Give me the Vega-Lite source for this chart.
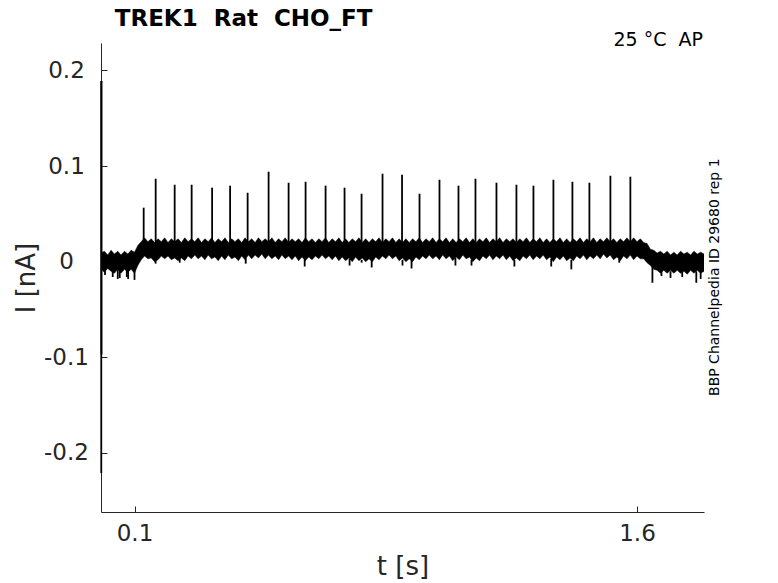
{
  "$schema": "https://vega.github.io/schema/vega-lite/v6.json",
  "width": 603,
  "height": 469,
  "autosize": "none",
  "padding": {"left": 101, "top": 43, "right": 74, "bottom": 71},
  "background": "white",
  "config": {"view": {"stroke": null}, "font": "DejaVu Sans"},
  "datasets": {
    "envelope": [
      {"t":0.00,"lo":-0.008,"hi":0.009},{"t":0.01,"lo":-0.011,"hi":0.011},{"t":0.02,"lo":-0.007,"hi":0.007},{"t":0.03,"lo":-0.010,"hi":0.012},{"t":0.04,"lo":-0.012,"hi":0.008},
      {"t":0.05,"lo":-0.008,"hi":0.011},{"t":0.06,"lo":-0.012,"hi":0.007},{"t":0.07,"lo":-0.008,"hi":0.011},{"t":0.08,"lo":-0.011,"hi":0.008},{"t":0.09,"lo":-0.008,"hi":0.012},
      {"t":0.10,"lo":-0.012,"hi":0.010},{"t":0.11,"lo":-0.004,"hi":0.017},{"t":0.12,"lo":0.002,"hi":0.021},{"t":0.13,"lo":0.006,"hi":0.025},{"t":0.14,"lo":0.003,"hi":0.021},
      {"t":0.15,"lo":0.004,"hi":0.024},{"t":0.16,"lo":0.000,"hi":0.020},{"t":0.17,"lo":0.002,"hi":0.024},{"t":0.18,"lo":0.006,"hi":0.021},{"t":0.19,"lo":0.003,"hi":0.025},
      {"t":0.20,"lo":0.006,"hi":0.020},{"t":0.21,"lo":0.002,"hi":0.024},{"t":0.22,"lo":0.004,"hi":0.021},{"t":0.23,"lo":0.001,"hi":0.024},{"t":0.24,"lo":0.004,"hi":0.020},
      {"t":0.25,"lo":0.001,"hi":0.025},{"t":0.26,"lo":0.006,"hi":0.021},{"t":0.27,"lo":0.003,"hi":0.024},{"t":0.28,"lo":0.007,"hi":0.021},{"t":0.29,"lo":0.003,"hi":0.025},
      {"t":0.30,"lo":0.006,"hi":0.020},{"t":0.31,"lo":0.002,"hi":0.024},{"t":0.32,"lo":0.007,"hi":0.021},{"t":0.33,"lo":0.003,"hi":0.025},{"t":0.34,"lo":0.005,"hi":0.020},
      {"t":0.35,"lo":0.001,"hi":0.024},{"t":0.36,"lo":0.006,"hi":0.021},{"t":0.37,"lo":0.002,"hi":0.025},{"t":0.38,"lo":0.007,"hi":0.020},{"t":0.39,"lo":0.003,"hi":0.024},
      {"t":0.40,"lo":0.005,"hi":0.021},{"t":0.41,"lo":0.001,"hi":0.024},{"t":0.42,"lo":0.006,"hi":0.020},{"t":0.43,"lo":0.002,"hi":0.025},{"t":0.44,"lo":0.007,"hi":0.021},
      {"t":0.45,"lo":0.003,"hi":0.024},{"t":0.46,"lo":0.007,"hi":0.020},{"t":0.47,"lo":0.004,"hi":0.025},{"t":0.48,"lo":0.008,"hi":0.021},{"t":0.49,"lo":0.003,"hi":0.024},
      {"t":0.50,"lo":0.007,"hi":0.021},{"t":0.51,"lo":0.003,"hi":0.025},{"t":0.52,"lo":0.006,"hi":0.020},{"t":0.53,"lo":0.002,"hi":0.024},{"t":0.54,"lo":0.007,"hi":0.021},
      {"t":0.55,"lo":0.003,"hi":0.025},{"t":0.56,"lo":0.006,"hi":0.020},{"t":0.57,"lo":0.002,"hi":0.024},{"t":0.58,"lo":0.006,"hi":0.021},{"t":0.59,"lo":0.001,"hi":0.024},
      {"t":0.60,"lo":0.005,"hi":0.020},{"t":0.61,"lo":0.001,"hi":0.025},{"t":0.62,"lo":0.005,"hi":0.021},{"t":0.63,"lo":0.002,"hi":0.024},{"t":0.64,"lo":0.006,"hi":0.020},
      {"t":0.65,"lo":0.003,"hi":0.024},{"t":0.66,"lo":0.007,"hi":0.021},{"t":0.67,"lo":0.003,"hi":0.025},{"t":0.68,"lo":0.006,"hi":0.020},{"t":0.69,"lo":0.002,"hi":0.024},
      {"t":0.70,"lo":0.006,"hi":0.021},{"t":0.71,"lo":0.001,"hi":0.025},{"t":0.72,"lo":0.005,"hi":0.020},{"t":0.73,"lo":0.001,"hi":0.024},{"t":0.74,"lo":0.004,"hi":0.020},
      {"t":0.75,"lo":0.000,"hi":0.024},{"t":0.76,"lo":0.005,"hi":0.021},{"t":0.77,"lo":0.001,"hi":0.025},{"t":0.78,"lo":0.004,"hi":0.020},{"t":0.79,"lo":0.000,"hi":0.024},
      {"t":0.80,"lo":0.003,"hi":0.020},{"t":0.81,"lo":0.000,"hi":0.024},{"t":0.82,"lo":0.005,"hi":0.021},{"t":0.83,"lo":0.002,"hi":0.025},{"t":0.84,"lo":0.006,"hi":0.020},
      {"t":0.85,"lo":0.003,"hi":0.024},{"t":0.86,"lo":0.007,"hi":0.021},{"t":0.87,"lo":0.003,"hi":0.025},{"t":0.88,"lo":0.006,"hi":0.020},{"t":0.89,"lo":0.001,"hi":0.024},
      {"t":0.90,"lo":0.004,"hi":0.020},{"t":0.91,"lo":0.000,"hi":0.024},{"t":0.92,"lo":0.003,"hi":0.020},{"t":0.93,"lo":0.000,"hi":0.024},{"t":0.94,"lo":0.005,"hi":0.021},
      {"t":0.95,"lo":0.002,"hi":0.025},{"t":0.96,"lo":0.006,"hi":0.020},{"t":0.97,"lo":0.003,"hi":0.024},{"t":0.98,"lo":0.007,"hi":0.021},{"t":0.99,"lo":0.003,"hi":0.025},
      {"t":1.00,"lo":0.006,"hi":0.020},{"t":1.01,"lo":0.002,"hi":0.024},{"t":1.02,"lo":0.007,"hi":0.021},{"t":1.03,"lo":0.003,"hi":0.025},{"t":1.04,"lo":0.006,"hi":0.020},
      {"t":1.05,"lo":0.001,"hi":0.024},{"t":1.06,"lo":0.005,"hi":0.020},{"t":1.07,"lo":0.002,"hi":0.024},{"t":1.08,"lo":0.007,"hi":0.021},{"t":1.09,"lo":0.003,"hi":0.025},
      {"t":1.10,"lo":0.005,"hi":0.020},{"t":1.11,"lo":0.000,"hi":0.024},{"t":1.12,"lo":0.004,"hi":0.020},{"t":1.13,"lo":0.001,"hi":0.024},{"t":1.14,"lo":0.006,"hi":0.021},
      {"t":1.15,"lo":0.003,"hi":0.025},{"t":1.16,"lo":0.007,"hi":0.020},{"t":1.17,"lo":0.002,"hi":0.024},{"t":1.18,"lo":0.006,"hi":0.021},{"t":1.19,"lo":0.003,"hi":0.025},
      {"t":1.20,"lo":0.007,"hi":0.020},{"t":1.21,"lo":0.002,"hi":0.024},{"t":1.22,"lo":0.006,"hi":0.021},{"t":1.23,"lo":0.001,"hi":0.024},{"t":1.24,"lo":0.004,"hi":0.020},
      {"t":1.25,"lo":0.001,"hi":0.024},{"t":1.26,"lo":0.006,"hi":0.021},{"t":1.27,"lo":0.003,"hi":0.025},{"t":1.28,"lo":0.007,"hi":0.020},{"t":1.29,"lo":0.002,"hi":0.024},
      {"t":1.30,"lo":0.006,"hi":0.021},{"t":1.31,"lo":0.003,"hi":0.025},{"t":1.32,"lo":0.007,"hi":0.020},{"t":1.33,"lo":0.002,"hi":0.024},{"t":1.34,"lo":0.005,"hi":0.020},
      {"t":1.35,"lo":0.000,"hi":0.024},{"t":1.36,"lo":0.005,"hi":0.021},{"t":1.37,"lo":0.002,"hi":0.025},{"t":1.38,"lo":0.006,"hi":0.020},{"t":1.39,"lo":0.001,"hi":0.024},
      {"t":1.40,"lo":0.004,"hi":0.020},{"t":1.41,"lo":0.001,"hi":0.024},{"t":1.42,"lo":0.006,"hi":0.021},{"t":1.43,"lo":0.003,"hi":0.025},{"t":1.44,"lo":0.007,"hi":0.020},
      {"t":1.45,"lo":0.002,"hi":0.024},{"t":1.46,"lo":0.006,"hi":0.021},{"t":1.47,"lo":0.003,"hi":0.025},{"t":1.48,"lo":0.007,"hi":0.020},{"t":1.49,"lo":0.003,"hi":0.024},
      {"t":1.50,"lo":0.008,"hi":0.021},{"t":1.51,"lo":0.004,"hi":0.025},{"t":1.52,"lo":0.007,"hi":0.021},{"t":1.53,"lo":0.002,"hi":0.024},{"t":1.54,"lo":0.005,"hi":0.020},
      {"t":1.55,"lo":0.001,"hi":0.024},{"t":1.56,"lo":0.006,"hi":0.021},{"t":1.57,"lo":0.003,"hi":0.025},{"t":1.58,"lo":0.007,"hi":0.021},{"t":1.59,"lo":0.002,"hi":0.025},
      {"t":1.60,"lo":0.006,"hi":0.021},{"t":1.61,"lo":0.003,"hi":0.024},{"t":1.62,"lo":0.003,"hi":0.020},{"t":1.63,"lo":-0.001,"hi":0.019},{"t":1.64,"lo":-0.004,"hi":0.013},
      {"t":1.65,"lo":-0.008,"hi":0.012},{"t":1.66,"lo":-0.009,"hi":0.009},{"t":1.67,"lo":-0.012,"hi":0.011},{"t":1.68,"lo":-0.009,"hi":0.008},{"t":1.69,"lo":-0.012,"hi":0.011},
      {"t":1.70,"lo":-0.009,"hi":0.007},{"t":1.71,"lo":-0.012,"hi":0.010},{"t":1.72,"lo":-0.009,"hi":0.007},{"t":1.73,"lo":-0.012,"hi":0.011},{"t":1.74,"lo":-0.010,"hi":0.008},
      {"t":1.75,"lo":-0.013,"hi":0.010},{"t":1.76,"lo":-0.009,"hi":0.007},{"t":1.77,"lo":-0.012,"hi":0.011},{"t":1.78,"lo":-0.009,"hi":0.008},{"t":1.79,"lo":-0.012,"hi":0.010},
      {"t":1.80,"lo":-0.010,"hi":0.008}
    ],
    "spikes": [
      {"t":0.0008,"a":-0.221,"b":0.189},{"t":0.0014,"a":-0.097,"b":0.189},
      {"t":0.1274,"a":0.02,"b":0.0565},{"t":0.1632,"a":0.02,"b":0.0868},{"t":0.2199,"a":0.02,"b":0.0805},{"t":0.2706,"a":0.02,"b":0.0805},
      {"t":0.3317,"a":0.02,"b":0.0774},{"t":0.3854,"a":0.02,"b":0.0795},{"t":0.4377,"a":0.02,"b":0.0721},{"t":0.5003,"a":0.02,"b":0.0941},
      {"t":0.5600,"a":0.02,"b":0.0826},{"t":0.6107,"a":0.02,"b":0.0836},{"t":0.6704,"a":0.02,"b":0.0795},{"t":0.7270,"a":0.02,"b":0.0774},
      {"t":0.7778,"a":0.02,"b":0.0711},{"t":0.8404,"a":0.02,"b":0.0920},{"t":0.8986,"a":0.02,"b":0.0910},{"t":0.9508,"a":0.02,"b":0.0711},
      {"t":1.0104,"a":0.02,"b":0.0857},{"t":1.0671,"a":0.02,"b":0.0795},{"t":1.1178,"a":0.02,"b":0.0868},{"t":1.1805,"a":0.02,"b":0.0826},
      {"t":1.2401,"a":0.02,"b":0.0805},{"t":1.2909,"a":0.02,"b":0.0795},{"t":1.3505,"a":0.02,"b":0.0857},{"t":1.4072,"a":0.02,"b":0.0836},
      {"t":1.4579,"a":0.02,"b":0.0826},{"t":1.5206,"a":0.02,"b":0.0899},{"t":1.5802,"a":0.02,"b":0.0889},
      {"t":0.012,"a":-0.008,"b":-0.014},{"t":0.035,"a":-0.008,"b":-0.016},{"t":0.050,"a":-0.008,"b":-0.018},{"t":0.056,"a":-0.008,"b":-0.017},
      {"t":0.077,"a":-0.008,"b":-0.016},{"t":0.081,"a":-0.008,"b":-0.018},{"t":0.100,"a":-0.008,"b":-0.019},
      {"t":0.163,"a":0.003,"b":-0.002},{"t":0.235,"a":0.003,"b":-0.001},{"t":0.432,"a":0.004,"b":-0.002},{"t":0.608,"a":0.003,"b":-0.005},
      {"t":0.742,"a":0.003,"b":-0.004},{"t":0.778,"a":0.002,"b":-0.001},{"t":0.808,"a":0.002,"b":-0.006},{"t":0.900,"a":0.002,"b":-0.004},
      {"t":0.927,"a":0.002,"b":-0.007},{"t":1.058,"a":0.004,"b":-0.004},{"t":1.106,"a":0.002,"b":-0.004},{"t":1.234,"a":0.002,"b":-0.005},
      {"t":1.344,"a":0.003,"b":-0.005},{"t":1.404,"a":0.002,"b":-0.008},{"t":1.547,"a":0.003,"b":-0.001},
      {"t":1.646,"a":-0.005,"b":-0.022},{"t":1.673,"a":-0.009,"b":-0.015},{"t":1.700,"a":-0.010,"b":-0.017},{"t":1.735,"a":-0.010,"b":-0.016},
      {"t":1.777,"a":-0.010,"b":-0.022},{"t":1.790,"a":-0.010,"b":-0.018}
    ]
  },
  "layer": [
    {
      "data": {"name": "envelope"},
      "mark": {"type": "area", "color": "#000000", "stroke": "#000000", "strokeWidth": 0.5, "clip": true},
      "encoding": {
        "x": {"field": "t", "type": "quantitative",
              "scale": {"domain": [0, 1.8], "nice": false, "zero": false},
              "axis": {"values": [0.1, 1.6], "format": ".1f", "title": "t [s]", "grid": false,
                       "domainColor": "#262626", "tickColor": "#262626", "tickSize": -6, "labelPadding": 16,
                       "labelFont": "DejaVu Sans", "labelFontSize": 23, "labelColor": "#262626",
                       "titleFont": "DejaVu Sans", "titleFontSize": 26, "titleFontWeight": "normal", "titleColor": "#262626", "titlePadding": 8}},
        "y": {"field": "lo", "type": "quantitative",
              "scale": {"domain": [-0.2617, 0.2287], "nice": false, "zero": false},
              "axis": {"values": [-0.2, -0.1, 0, 0.1, 0.2], "title": "I [nA]", "grid": false,
                       "labelExpr": "datum.value == 0 ? '0' : (datum.value < 0 ? '-' + format(-datum.value, '.1f') : format(datum.value, '.1f'))",
                       "domainColor": "#262626", "tickColor": "#262626", "tickSize": -6, "labelPadding": 41, "labelAlign": "center",
                       "labelFont": "DejaVu Sans", "labelFontSize": 23, "labelColor": "#262626",
                       "titleFont": "DejaVu Sans", "titleFontSize": 26, "titleFontWeight": "normal", "titleColor": "#262626", "titlePadding": 4}},
        "y2": {"field": "hi"}
      }
    },
    {
      "data": {"name": "spikes"},
      "mark": {"type": "rule", "color": "#000000", "strokeWidth": 1.8},
      "encoding": {
        "x": {"field": "t", "type": "quantitative"},
        "y": {"field": "a", "type": "quantitative"},
        "y2": {"field": "b"}
      }
    },
    {
      "data": {"values": [{}]},
      "mark": {"type": "text", "text": "TREK1\u00a0 Rat\u00a0 CHO_FT", "align": "left", "baseline": "alphabetic", "font": "DejaVu Sans", "fontSize": 23, "fontWeight": "bold", "color": "#000000"},
      "encoding": {"x": {"datum": 0.041}, "y": {"datum": 0.2467}}
    },
    {
      "data": {"values": [{}]},
      "mark": {"type": "text", "text": "25 °C\u00a0 AP", "align": "right", "baseline": "middle", "font": "DejaVu Sans", "fontSize": 19, "color": "#000000"},
      "encoding": {"x": {"datum": 1.797}, "y": {"datum": 0.232}}
    },
    {
      "data": {"values": [{}]},
      "mark": {"type": "text", "text": "BBP Channelpedia ID 29680 rep 1", "angle": 270, "align": "center", "baseline": "middle", "font": "DejaVu Sans", "fontSize": 14, "color": "#000000"},
      "encoding": {"x": {"datum": 1.834}, "y": {"datum": -0.0162}}
    }
  ]
}
